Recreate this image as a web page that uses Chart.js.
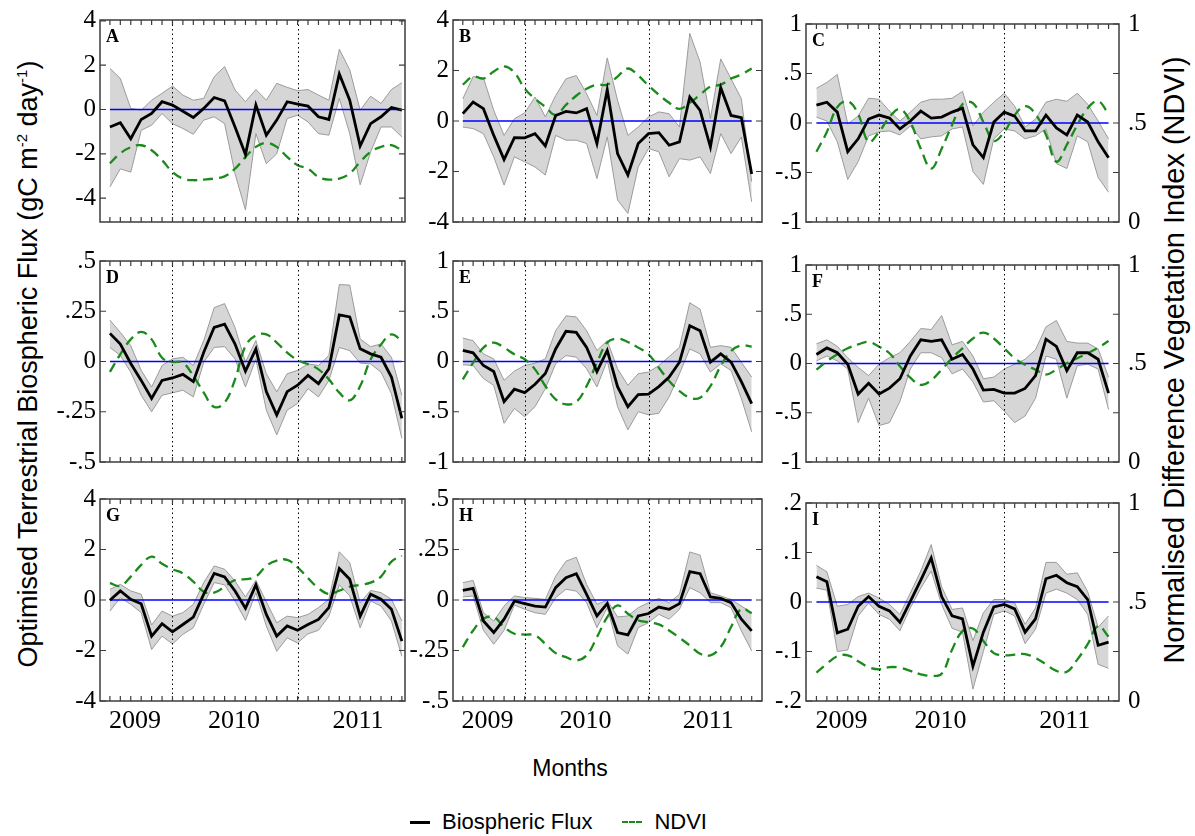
<!DOCTYPE html>
<html><head><meta charset="utf-8">
<script src="https://cdn.jsdelivr.net/npm/chart.js@4/dist/chart.umd.min.js"></script>
<style>
html,body{margin:0;padding:0;background:#fff;}
body{width:1195px;height:836px;position:relative;overflow:hidden;font-family:"Liberation Sans",Arial,sans-serif;color:#000;}
.pc{position:absolute;}
.rot{position:absolute;white-space:nowrap;transform:translate(-50%,-50%) rotate(-90deg);line-height:1;}
.rot sup{font-size:15px;vertical-align:10px;line-height:0;}
#months{position:absolute;left:570px;top:768px;transform:translate(-50%,-50%);font-size:23px;}
#legend{position:absolute;left:410px;top:810px;height:24px;display:flex;align-items:center;font-size:22px;white-space:nowrap;}
.lk{display:inline-block;width:20px;height:0;margin-right:12px;}
</style></head><body>
<div class="rot" style="left:28px;top:364px;font-size:27px;">Optimised Terrestrial Biospheric Flux (gC m<sup>-2</sup> day<sup>-1</sup>)</div>
<div class="rot" style="left:1174px;top:360px;font-size:29px;">Normalised Difference Vegetation Index (NDVI)</div>
<div id="months">Months</div>
<div id="legend"><span class="lk" style="border-top:3px solid #000;"></span><span>Biospheric Flux</span><span class="lk" style="border-top:2px dashed #1a8a1a;margin-left:30px;"></span><span>NDVI</span></div>
<script>
// ---------- data ----------
const months = [0,1,2,3,4,5,6,7,8,9,10,11,12,13,14,15,16,17,18,19,20,21,22,23,24,25,26,27,28];
const yearTickLabels = ['2009','2010','2011'];
const yearTickPos = [2.4, 11.9, 23.8];
const yearBoundaries = [6, 18];
const panelLetters = ['A','B','C','D','E','F','G','H','I'];
const ndviTicks = [0, 0.5, 1];

const ticksA = [-4,-2,0,2,4];
const fluxA  = [-0.79,-0.6,-1.32,-0.45,-0.18,0.35,0.2,-0.08,-0.36,0.05,0.54,0.39,-0.79,-2.03,0.2,-1.16,-0.48,0.35,0.24,0.15,-0.33,-0.45,1.6,0.42,-1.65,-0.64,-0.33,0.09,-0.03];
const upperA = [1.86,1.4,0.05,-0.03,0.42,0.73,1.06,0.65,0.42,0.5,1.48,1.94,0.88,0.35,0.9,0.42,1.18,1.0,0.85,0.9,0.65,0.42,2.72,1.79,-0.03,0.6,0.27,0.9,1.21];
const lowerA = [-3.5,-2.68,-2.83,-0.94,-0.71,-0.18,-0.64,-0.86,-1.12,-0.48,-0.33,-0.64,-2.9,-4.54,-1.09,-2.45,-2.0,-0.41,-0.26,-0.56,-1.09,-1.16,0.5,-1.09,-3.4,-1.92,-0.79,-0.79,-1.24];
const ndviA  = [0.29,0.34,0.37,0.38,0.355,0.306,0.248,0.215,0.207,0.21,0.215,0.226,0.264,0.322,0.372,0.392,0.372,0.322,0.281,0.264,0.223,0.21,0.215,0.24,0.298,0.347,0.372,0.38,0.355];

const ticksB = [-4,-2,0,2,4];
const fluxB  = [0.29,0.75,0.49,-0.57,-1.53,-0.66,-0.67,-0.5,-0.99,0.22,0.38,0.32,0.49,-0.89,1.24,-1.29,-2.14,-0.89,-0.5,-0.46,-0.96,-0.83,0.95,0.42,-1.03,1.32,0.22,0.13,-2.1];
const upperB = [0.88,1.76,1.71,0.42,-0.57,0.09,0.32,0.95,0.16,1.01,1.67,1.8,1.08,0.22,2.5,0.82,-0.57,-0.24,0.16,0.36,0.29,-0.24,3.47,2.33,0.09,2.46,1.67,0.88,-2.4];
const lowerB = [-0.24,-0.3,-0.5,-1.42,-2.54,-1.42,-1.62,-1.82,-2.14,-0.57,-0.76,-0.76,-0.89,-2.28,-0.63,-3.13,-3.66,-1.82,-1.09,-1.22,-2.21,-1.49,-1.55,-1.42,-2.08,-0.5,-1.29,-0.63,-3.2];
const ndviB  = [0.68,0.72,0.71,0.745,0.77,0.74,0.66,0.61,0.57,0.53,0.58,0.625,0.66,0.68,0.68,0.72,0.76,0.725,0.675,0.63,0.59,0.56,0.59,0.63,0.67,0.68,0.71,0.73,0.76];

const ticksC = [-1,-0.5,0,0.5,1];
const fluxC  = [0.18,0.21,0.11,-0.29,-0.16,0.04,0.08,0.05,-0.06,0.02,0.12,0.05,0.06,0.11,0.15,-0.22,-0.35,0.01,0.11,0.07,-0.08,-0.08,0.08,-0.05,-0.12,0.08,0.01,-0.19,-0.35];
const upperC = [0.35,0.41,0.49,-0.01,0.07,0.25,0.24,0.12,0.02,0.11,0.21,0.24,0.24,0.25,0.32,-0.03,0.11,0.21,0.3,0.17,-0.04,0.04,0.21,0.24,0.22,0.3,0.19,0.02,-0.16];
const lowerC = [0.06,0.02,-0.19,-0.57,-0.39,-0.13,-0.09,-0.08,-0.12,-0.03,-0.16,-0.14,-0.13,-0.06,-0.04,-0.49,-0.62,-0.16,-0.06,-0.08,-0.16,-0.13,-0.06,-0.41,-0.46,-0.13,-0.19,-0.55,-0.7];
const ndviC  = [0.355,0.455,0.58,0.61,0.545,0.405,0.455,0.53,0.57,0.505,0.37,0.27,0.37,0.49,0.595,0.6,0.505,0.41,0.455,0.54,0.585,0.545,0.44,0.305,0.39,0.49,0.575,0.61,0.545];

const ticksD = [-0.5,-0.25,0,0.25,0.5];
const fluxD  = [0.14,0.087,-0.01,-0.094,-0.184,-0.094,-0.082,-0.064,-0.1,0.046,0.17,0.186,0.087,-0.048,0.063,-0.15,-0.266,-0.15,-0.118,-0.069,-0.11,-0.036,0.232,0.222,0.063,0.038,0.021,-0.077,-0.283];
const upperD = [0.206,0.145,0.079,-0.044,-0.127,-0.02,0.013,0.021,-0.02,0.104,0.268,0.288,0.169,-0.003,0.104,-0.061,-0.151,-0.061,-0.044,-0.012,-0.02,0.03,0.383,0.38,0.112,0.074,0.087,0.021,-0.168];
const lowerD = [0.07,0.03,-0.053,-0.168,-0.25,-0.168,-0.156,-0.143,-0.176,-0.003,0.07,0.074,0.013,-0.127,0.013,-0.242,-0.365,-0.242,-0.209,-0.135,-0.176,-0.094,0.07,0.054,-0.008,-0.012,-0.053,-0.16,-0.382];
const ndviD  = [0.448,0.536,0.61,0.647,0.61,0.519,0.498,0.494,0.428,0.345,0.274,0.295,0.411,0.577,0.63,0.635,0.594,0.544,0.507,0.486,0.461,0.411,0.345,0.307,0.378,0.51,0.585,0.635,0.602];

const ticksE = [-1,-0.5,0,0.5,1];
const fluxE  = [0.11,0.086,-0.04,-0.1,-0.4,-0.276,-0.31,-0.227,-0.12,0.125,0.3,0.29,0.14,-0.1,0.11,-0.25,-0.45,-0.33,-0.325,-0.25,-0.155,-0.007,0.355,0.306,-0.007,0.076,-0.007,-0.2,-0.42];
const upperE = [0.234,0.207,0.076,0.026,-0.187,-0.095,-0.04,-0.016,0.026,0.306,0.454,0.444,0.306,0.109,0.207,-0.072,-0.237,-0.122,-0.105,-0.04,0.049,0.141,0.585,0.52,0.141,0.158,0.141,-0.007,-0.155];
const lowerE = [-0.033,-0.04,-0.17,-0.237,-0.615,-0.467,-0.55,-0.45,-0.27,-0.023,0.059,0.043,-0.072,-0.253,0.01,-0.45,-0.68,-0.5,-0.53,-0.516,-0.352,-0.122,0.125,0.076,-0.105,-0.023,-0.089,-0.368,-0.7];
const ndviE  = [0.411,0.494,0.569,0.594,0.569,0.536,0.511,0.461,0.378,0.312,0.287,0.299,0.378,0.494,0.594,0.614,0.597,0.569,0.536,0.469,0.403,0.353,0.32,0.32,0.378,0.478,0.552,0.58,0.574];

const ticksF = [-1,-0.5,0,0.5,1];
const fluxF  = [0.092,0.158,0.109,-0.007,-0.31,-0.2,-0.31,-0.25,-0.155,0.076,0.24,0.224,0.24,0.043,0.092,-0.056,-0.27,-0.263,-0.3,-0.3,-0.253,-0.122,0.247,0.174,-0.072,0.109,0.109,0.043,-0.3];
const upperF = [0.2,0.24,0.174,0.059,-0.04,-0.122,-0.007,0.059,0.109,0.224,0.355,0.345,0.487,0.19,0.224,0.076,-0.155,-0.138,-0.056,-0.007,0.043,0.141,0.372,0.437,0.224,0.207,0.207,0.148,-0.138];
const lowerF = [0.026,0.076,0.026,-0.056,-0.6,-0.352,-0.63,-0.6,-0.385,-0.056,0.109,0.109,0.059,-0.105,-0.056,-0.187,-0.391,-0.378,-0.484,-0.6,-0.533,-0.352,0.076,0.043,-0.352,-0.023,-0.007,-0.056,-0.467];
const ndviF  = [0.469,0.511,0.547,0.577,0.597,0.61,0.585,0.552,0.486,0.428,0.391,0.415,0.469,0.527,0.577,0.627,0.657,0.627,0.577,0.527,0.494,0.469,0.444,0.469,0.502,0.527,0.552,0.58,0.614];

const ticksG = [-4,-2,0,2,4];
const fluxG  = [-0.01,0.36,0.03,-0.15,-1.43,-0.94,-1.26,-0.97,-0.68,0.23,1.05,0.91,0.36,-0.33,0.6,-0.57,-1.43,-1.03,-1.2,-0.97,-0.77,-0.3,1.25,0.82,-0.64,0.23,0.03,-0.37,-1.63];
const upperG = [0.42,0.62,0.36,0.23,-0.99,-0.44,-0.64,-0.5,-0.17,0.69,1.35,1.22,0.75,0.12,0.78,-0.07,-0.9,-0.64,-0.7,-0.57,-0.3,0.03,1.91,1.48,-0.11,0.38,0.29,0.03,-0.83];
const lowerG = [-0.44,0.09,-0.17,-0.5,-1.96,-1.43,-1.74,-1.36,-1.1,-0.17,0.69,0.6,-0.04,-0.81,0.29,-1.03,-2.03,-1.5,-1.7,-1.34,-1.2,-0.64,0.6,0.16,-1.1,-0.04,-0.24,-0.83,-2.23];
const ndviG  = [0.583,0.57,0.616,0.674,0.715,0.679,0.652,0.632,0.591,0.541,0.536,0.566,0.599,0.603,0.616,0.669,0.695,0.699,0.662,0.608,0.558,0.53,0.546,0.566,0.575,0.586,0.616,0.69,0.719];

const ticksH = [-0.5,-0.25,0,0.25,0.5];
const fluxH  = [0.048,0.058,-0.104,-0.161,-0.095,-0.005,-0.018,-0.03,-0.035,0.061,0.11,0.13,0.028,-0.079,-0.018,-0.161,-0.173,-0.079,-0.067,-0.035,-0.046,-0.018,0.14,0.13,0.015,0.008,-0.013,-0.095,-0.153];
const upperH = [0.086,0.097,-0.063,-0.104,-0.03,0.02,0.012,0.008,0.003,0.118,0.192,0.212,0.077,-0.021,-0.002,-0.084,-0.079,-0.038,-0.013,0.008,-0.013,0.028,0.238,0.222,0.036,0.02,0.003,-0.03,-0.063];
const lowerH = [0.015,0.02,-0.15,-0.219,-0.15,-0.025,-0.046,-0.063,-0.071,0.012,0.053,0.044,-0.013,-0.137,-0.038,-0.227,-0.268,-0.137,-0.112,-0.071,-0.095,-0.046,0.061,0.036,-0.013,-0.013,-0.038,-0.153,-0.252];
const ndviH  = [0.267,0.349,0.407,0.415,0.366,0.333,0.329,0.325,0.283,0.237,0.217,0.201,0.226,0.316,0.415,0.473,0.432,0.399,0.39,0.379,0.349,0.313,0.275,0.234,0.226,0.267,0.366,0.456,0.435];

const ticksI = [-0.2,-0.1,0,0.1,0.2];
const fluxI  = [0.051,0.041,-0.0625,-0.055,-0.0086,0.011,-0.0086,-0.018,-0.041,0.0013,0.044,0.089,0.011,-0.028,-0.034,-0.13,-0.061,-0.01,-0.005,-0.014,-0.061,-0.034,0.047,0.054,0.039,0.031,0.005,-0.0875,-0.081];
const upperI = [0.074,0.061,-0.0086,-0.005,0.011,0.018,0.008,-0.005,-0.025,0.018,0.0625,0.116,0.031,-0.015,-0.012,-0.078,-0.022,0.005,0.005,-0.002,-0.045,-0.012,0.08,0.08,0.056,0.059,0.021,-0.051,-0.028];
const lowerI = [0.028,0.024,-0.1,-0.097,-0.028,-0.002,-0.025,-0.035,-0.058,-0.012,0.028,0.0625,-0.005,-0.053,-0.061,-0.176,-0.1,-0.025,-0.018,-0.028,-0.084,-0.055,0.018,0.026,0.018,0.005,-0.025,-0.126,-0.134];
const ndviI  = [0.143,0.188,0.226,0.231,0.201,0.171,0.16,0.171,0.168,0.152,0.135,0.127,0.138,0.259,0.353,0.366,0.303,0.242,0.231,0.234,0.237,0.217,0.185,0.152,0.148,0.209,0.287,0.379,0.325];

// ---------- layout / style ----------
const colFrames = [[100,405],[453,762],[806,1119]];
const rowFrames = [[20,222],[261,462],[499,701]];
const colXRange = [[-0.95,28.3],[-0.95,29.0],[-1.0,29.0]];
const yRanges = [[-5.08,4.04],[-4,4],[-1,1],[-0.5,0.5],[-1,1],[-1,1],[-4,4],[-0.5,0.5],[-0.2,0.2]];
const PADL = 58, PADR = 45, PADT = 20, PADB = 42;
const yFont = {family:'"Liberation Serif","Times New Roman",serif', size:25};
const xFont = {family:'"Liberation Serif","Times New Roman",serif', size:26};

const panels = [
  [fluxA,upperA,lowerA,ndviA,ticksA],[fluxB,upperB,lowerB,ndviB,ticksB],[fluxC,upperC,lowerC,ndviC,ticksC],
  [fluxD,upperD,lowerD,ndviD,ticksD],[fluxE,upperE,lowerE,ndviE,ticksE],[fluxF,upperF,lowerF,ndviF,ticksF],
  [fluxG,upperG,lowerG,ndviG,ticksG],[fluxH,upperH,lowerH,ndviH,ticksH],[fluxI,upperI,lowerI,ndviI,ticksI]
];

function fmt(v){ if (Math.abs(v) < 1e-9) return '0'; return String(+v.toFixed(3)).replace('0.', '.'); }
function pts(arr){ return months.map((m,i)=>({x:m, y:arr[i]})); }

const framePlugin = {
  id:'frame',
  afterDatasetsDraw(chart){
    const ctx = chart.ctx, a = chart.chartArea, xs = chart.scales.x;
    ctx.save();
    ctx.strokeStyle = '#000'; ctx.lineWidth = 1; ctx.setLineDash([1.5,3]);
    yearBoundaries.forEach(v=>{
      const px = Math.round(xs.getPixelForValue(v)) + 0.5;
      ctx.beginPath(); ctx.moveTo(px, a.top); ctx.lineTo(px, a.bottom); ctx.stroke();
    });
    ctx.restore();
  },
  afterDraw(chart, args, opts){
    const ctx = chart.ctx, a = chart.chartArea, xs = chart.scales.x, ys = chart.scales.y;
    ctx.save();
    ctx.strokeStyle = '#3c3c3c'; ctx.lineWidth = 1.5;
    ctx.strokeRect(a.left, a.top, a.right - a.left, a.bottom - a.top);
    ctx.lineWidth = 1.2;
    ctx.beginPath();
    months.forEach(m=>{
      const px = xs.getPixelForValue(m);
      ctx.moveTo(px, a.bottom); ctx.lineTo(px, a.bottom - 5);
      ctx.moveTo(px, a.top); ctx.lineTo(px, a.top + 5);
    });
    ys.ticks.forEach(t=>{
      const py = ys.getPixelForValue(t.value);
      ctx.moveTo(a.left, py); ctx.lineTo(a.left + 6, py);
      ctx.moveTo(a.right, py); ctx.lineTo(a.right - 6, py);
    });
    ctx.stroke();
    ctx.fillStyle = '#000';
    ctx.font = 'bold 18px "Liberation Serif","Times New Roman",serif';
    ctx.textBaseline = 'alphabetic'; ctx.textAlign = 'left';
    ctx.fillText(opts.letter, a.left + 6, a.top + 22);
    ctx.restore();
  }
};

panels.forEach((p, idx)=>{
  const row = Math.floor(idx/3), col = idx % 3;
  const [L,R] = colFrames[col], [T,B] = rowFrames[row];
  const w = R - L + PADL + PADR, h = B - T + PADT + PADB;
  const div = document.createElement('div');
  div.className = 'pc';
  div.style.left = (L - PADL) + 'px'; div.style.top = (T - PADT) + 'px';
  div.style.width = w + 'px'; div.style.height = h + 'px';
  const cv = document.createElement('canvas');
  cv.width = w; cv.height = h; cv.style.width = w + 'px'; cv.style.height = h + 'px';
  div.appendChild(cv); document.body.appendChild(div);
  const [flux, upper, lower, ndvi, yt] = p;
  new Chart(cv, {
    type:'line',
    data:{datasets:[
      {label:'Biospheric Flux', data:pts(flux), borderColor:'#000', borderWidth:2.8, pointRadius:0, fill:false, yAxisID:'y', tension:0},
      {label:'NDVI', data:pts(ndvi), borderColor:'#1a8a1a', borderWidth:2.3, borderDash:[10,6], pointRadius:0, fill:false, yAxisID:'y2', tension:0.4},
      {label:'zero', data:pts(months.map(()=>0)), borderColor:'#0000ff', borderWidth:1.3, pointRadius:0, fill:false, yAxisID:'y'},
      {label:'upper', data:pts(upper), borderColor:'#9b9b9b', borderWidth:1, pointRadius:0, fill:'+1', backgroundColor:'#d6d6d6', yAxisID:'y'},
      {label:'lower', data:pts(lower), borderColor:'#9b9b9b', borderWidth:1, pointRadius:0, fill:false, yAxisID:'y'}
    ]},
    options:{
      responsive:false, animation:false, devicePixelRatio:1,
      layout:{padding:{top:PADT, left:0, right:0, bottom:0}},
      plugins:{legend:{display:false}, tooltip:{enabled:false}, filler:{drawTime:'beforeDatasetsDraw'}, frame:{letter:panelLetters[idx]}},
      scales:{
        x:{type:'linear', min:colXRange[col][0], max:colXRange[col][1],
           afterBuildTicks:s=>{ s.ticks = yearTickPos.map(v=>({value:v})); },
           afterFit:s=>{ s.height = PADB; },
           ticks:{display: row===2, autoSkip:false, maxRotation:0, padding:5, color:'#000', font:xFont,
                  callback:(v,i)=>yearTickLabels[i]},
           grid:{display:false, drawTicks:false}, border:{display:false}},
        y:{position:'left', min:yRanges[idx][0], max:yRanges[idx][1],
           afterBuildTicks:s=>{ s.ticks = yt.map(v=>({value:v})); },
           afterFit:s=>{ s.width = PADL; },
           ticks:{padding:4, color:'#000', font:yFont, autoSkip:false, callback:v=>fmt(v)},
           grid:{display:false, drawTicks:false}, border:{display:false}},
        y2:{position:'right', min:0, max:1,
           afterBuildTicks:s=>{ s.ticks = ndviTicks.map(v=>({value:v})); },
           afterFit:s=>{ s.width = PADR; },
           ticks:{display: col===2, padding:9, color:'#000', font:yFont, autoSkip:false, callback:v=>fmt(v)},
           grid:{display:false, drawTicks:false}, border:{display:false}}
      }
    },
    plugins:[framePlugin]
  });
});
</script>
</body></html>
